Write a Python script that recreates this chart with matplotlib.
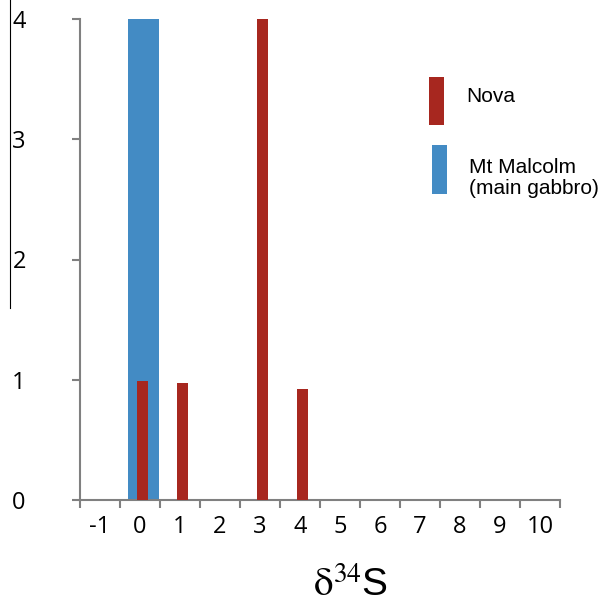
"""Histogram of d34S values, Nova vs Mt Malcolm (Excel-style category axis)."""
import matplotlib.pyplot as plt
import numpy as np
from matplotlib.lines import Line2D
from matplotlib.patches import Rectangle

plt.rcParams["font.family"] = ["Liberation Sans", "DejaVu Sans"]
plt.rcParams["mathtext.fontset"] = "stix"

# categories on the x axis (d34S bins)
categories = [-1, 0, 1, 2, 3, 4, 5, 6, 7, 8, 9, 10]
nova = [0, 0.99, 0.97, 0, 4.0, 0.92, 0, 0, 0, 0, 0, 0]
mt_malcolm = [0, 4.0, 0, 0, 0, 0, 0, 0, 0, 0, 0, 0]
y_ticks = [0, 1, 2, 3, 4]
series_labels = ["Nova", "Mt Malcolm\n(main gabbro)"]

RED = "#A7271F"
BLUE = "#438BC4"
GRAY = "#808080"

W, H = 601, 605
fig = plt.figure(figsize=(W / 100, H / 100), dpi=100)
ax = fig.add_axes([80 / W, (H - 500) / H, 480 / W, 481 / H])

x = np.arange(len(categories))
ax.bar(x + 0.08, mt_malcolm, width=0.77, color=BLUE, linewidth=0, zorder=2)
ax.bar(x + 0.06, nova, width=0.29, color=RED, linewidth=0, zorder=3)

ax.set_xlim(-0.5, len(categories) - 0.5)
ax.set_ylim(0, 4)

# tick marks sit between categories, labels in the middle
ax.set_xticks(np.arange(len(categories) + 1) - 0.5)
ax.set_xticklabels([])
ax.set_xticks(x, minor=True)
ax.set_xticklabels([str(c) for c in categories], minor=True,
                   fontfamily="Open Sans", fontsize=17)
ax.tick_params(axis="x", which="major", direction="out", length=6,
               width=1.5, color=GRAY)
ax.tick_params(axis="x", which="minor", length=0, pad=11)

ax.set_yticks(y_ticks)
ax.set_yticklabels([str(t) for t in y_ticks], fontfamily="Open Sans", fontsize=17)
ax.tick_params(axis="y", direction="out", length=6, width=1.5, color=GRAY, pad=33)

for side in ("top", "right"):
    ax.spines[side].set_visible(False)
for side in ("left", "bottom"):
    ax.spines[side].set_color(GRAY)
    ax.spines[side].set_linewidth(1.5)

# stray black rule at the far left of the original
fig.add_artist(Line2D([10.5 / W, 10.5 / W], [1, 1 - 308 / H], color="black", lw=0.8))

# legend drawn by hand: tall narrow swatches
fig.add_artist(Rectangle((429 / W, 1 - 125 / H), 15 / W, 48 / H, color=RED, lw=0))
fig.add_artist(Rectangle((432 / W, 1 - 194 / H), 15 / W, 49 / H, color=BLUE, lw=0))
fig.text(466 / W, 1 - 97 / H, series_labels[0], fontsize=15, va="center")
fig.text(469 / W, 1 - 178 / H, series_labels[1], fontsize=15, va="center",
         linespacing=1.1)

fig.text(351 / W, 9 / H, r"$\mathrm{\delta}^{34}$S", fontsize=28, ha="center",
         va="baseline")

fig.savefig("out.png", dpi=100)
